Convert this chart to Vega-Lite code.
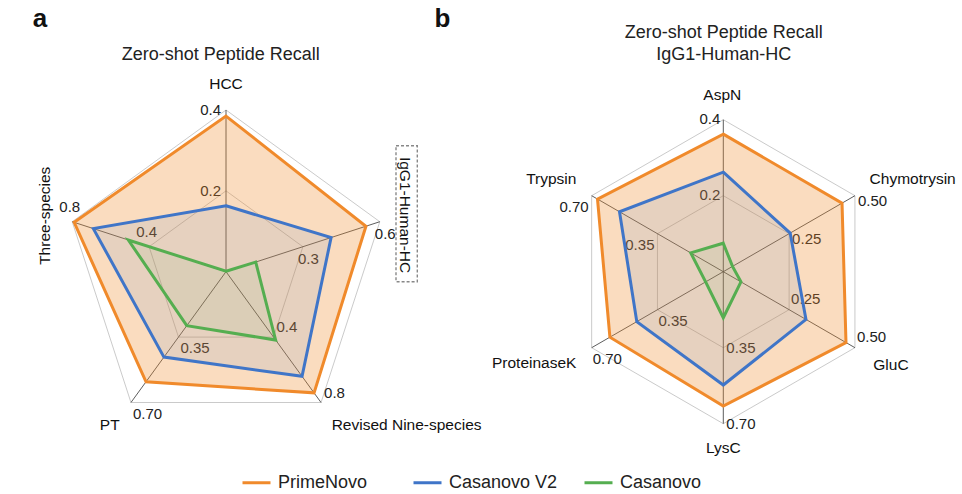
{
"$schema":"https://vega.github.io/schema/vega-lite/v6.json",
"width":962,"height":494,"padding":0,"autosize":{"type":"none"},"background":"white",
"config":{"view":{"stroke":null},"font":"Liberation Sans"},
"datasets":{
"axes":[
{"panel":"a","axis":"HCC","k":0,"n":5,"max":0.4,"levels":[0.5,1],"ticks":["0.2","0.4"]},
{"panel":"a","axis":"IgG1-Human-HC","k":1,"n":5,"max":0.6,"levels":[0.5,1],"ticks":["0.3","0.6"]},
{"panel":"a","axis":"Revised Nine-species","k":2,"n":5,"max":0.8,"levels":[0.5,1],"ticks":["0.4","0.8"]},
{"panel":"a","axis":"PT","k":3,"n":5,"max":0.7,"levels":[0.5,1],"ticks":["0.35","0.70"]},
{"panel":"a","axis":"Three-species","k":4,"n":5,"max":0.8,"levels":[0.5,1],"ticks":["0.4","0.8"]},
{"panel":"b","axis":"AspN","k":0,"n":6,"max":0.4,"levels":[0.5,1],"ticks":["0.2","0.4"]},
{"panel":"b","axis":"Chymotrysin","k":1,"n":6,"max":0.5,"levels":[0.5,1],"ticks":["0.25","0.50"]},
{"panel":"b","axis":"GluC","k":2,"n":6,"max":0.5,"levels":[0.5,1],"ticks":["0.25","0.50"]},
{"panel":"b","axis":"LysC","k":3,"n":6,"max":0.7,"levels":[0.5,1],"ticks":["0.35","0.70"]},
{"panel":"b","axis":"ProteinaseK","k":4,"n":6,"max":0.7,"levels":[0.5,1],"ticks":["0.35","0.70"]},
{"panel":"b","axis":"Trypsin","k":5,"n":6,"max":0.7,"levels":[0.5,1],"ticks":["0.35","0.70"]}
],
"scores":[
{"axis":"HCC","series":"PrimeNovo","value":0.385},
{"axis":"IgG1-Human-HC","series":"PrimeNovo","value":0.546},
{"axis":"Revised Nine-species","series":"PrimeNovo","value":0.741},
{"axis":"PT","series":"PrimeNovo","value":0.589},
{"axis":"Three-species","series":"PrimeNovo","value":0.79},
{"axis":"HCC","series":"Casanovo V2","value":0.163},
{"axis":"IgG1-Human-HC","series":"Casanovo V2","value":0.41},
{"axis":"Revised Nine-species","series":"Casanovo V2","value":0.64},
{"axis":"PT","series":"Casanovo V2","value":0.457},
{"axis":"Three-species","series":"Casanovo V2","value":0.69},
{"axis":"HCC","series":"Casanovo","value":0.001},
{"axis":"IgG1-Human-HC","series":"Casanovo","value":0.116},
{"axis":"Revised Nine-species","series":"Casanovo","value":0.418},
{"axis":"PT","series":"Casanovo","value":0.289},
{"axis":"Three-species","series":"Casanovo","value":0.508},
{"axis":"AspN","series":"PrimeNovo","value":0.362},
{"axis":"Chymotrysin","series":"PrimeNovo","value":0.451},
{"axis":"GluC","series":"PrimeNovo","value":0.466},
{"axis":"LysC","series":"PrimeNovo","value":0.619},
{"axis":"ProteinaseK","series":"PrimeNovo","value":0.603},
{"axis":"Trypsin","series":"PrimeNovo","value":0.669},
{"axis":"AspN","series":"Casanovo V2","value":0.262},
{"axis":"Chymotrysin","series":"Casanovo V2","value":0.254},
{"axis":"GluC","series":"Casanovo V2","value":0.314},
{"axis":"LysC","series":"Casanovo V2","value":0.522},
{"axis":"ProteinaseK","series":"Casanovo V2","value":0.46},
{"axis":"Trypsin","series":"Casanovo V2","value":0.552},
{"axis":"AspN","series":"Casanovo","value":0.075},
{"axis":"Chymotrysin","series":"Casanovo","value":0.035},
{"axis":"GluC","series":"Casanovo","value":0.067},
{"axis":"LysC","series":"Casanovo","value":0.212},
{"axis":"ProteinaseK","series":"Casanovo","value":0.094},
{"axis":"Trypsin","series":"Casanovo","value":0.173}
],
"titles":[
{"panel":"a","line":0,"text":"Zero-shot Peptide Recall"},
{"panel":"b","line":0,"text":"Zero-shot Peptide Recall"},
{"panel":"b","line":1,"text":"IgG1-Human-HC"}
],
"letters":[{"panel":"a","text":"a"},{"panel":"b","text":"b"}]
},
"encoding":{
"x":{"field":"px","type":"quantitative","scale":{"domain":[-1.3977,4.5516],"nice":false,"zero":false},"axis":null},
"y":{"field":"py","type":"quantitative","scale":{"domain":[-1.3748,1.6803],"nice":false,"zero":false},"axis":null}
},
"layer":[
{"data":{"values":[{}]},
"mark":{"type":"rect","color":"#6b7585","opacity":1},
"encoding":{"x":{"datum":-1.3977,"type":"quantitative"},"x2":{"datum":4.5516},"y":{"datum":1.6803,"type":"quantitative"},"y2":{"datum":1.6618}}
},
{"data":{"name":"axes"},
"transform":[
{"calculate":"datum.panel=='a'?0:3.0754","as":"cx"},
{"calculate":"datum.panel=='a'?1:0.94","as":"R"},
{"calculate":"2*PI*datum.k/datum.n","as":"th"},
{"flatten":["levels","ticks"]},
{"calculate":"datum.cx+datum.R*datum.levels*sin(datum.th)","as":"px"},
{"calculate":"datum.R*datum.levels*cos(datum.th)","as":"py"}
],
"mark":{"type":"line","interpolate":"linear-closed","stroke":"#c4c4c4","strokeWidth":0.9},
"encoding":{"detail":[{"field":"panel","type":"nominal"},{"field":"levels","type":"nominal"}],"order":{"field":"k","type":"quantitative"}}
},
{"data":{"name":"axes"},
"transform":[
{"calculate":"datum.panel=='a'?0:3.0754","as":"cx"},
{"calculate":"datum.panel=='a'?1:0.94","as":"R"},
{"calculate":"2*PI*datum.k/datum.n","as":"th"},
{"calculate":"datum.cx","as":"px"},
{"calculate":"0","as":"py"},
{"calculate":"datum.cx+datum.R*sin(datum.th)","as":"px2"},
{"calculate":"datum.R*cos(datum.th)","as":"py2"}
],
"mark":{"type":"rule","stroke":"#333","strokeWidth":0.8},
"encoding":{"x2":{"field":"px2"},"y2":{"field":"py2"}}
},
{"data":{"name":"axes"},
"transform":[
{"calculate":"datum.panel=='a'?0:3.0754","as":"cx"},
{"calculate":"datum.panel=='a'?1:0.94","as":"R"},
{"calculate":"2*PI*datum.k/datum.n","as":"th"},
{"calculate":"datum.panel=='a'?datum.k:5+datum.k","as":"g"},
{"flatten":["levels","ticks"]},
{"calculate":"[-5,-5,3,2,8,-3,3,2,3,1,-3][datum.g]","as":"ox"},
{"calculate":"[0,12,-10,11,-15,-1,5,-11,0,11,11][datum.g]","as":"oy"},
{"calculate":"['r','l','l','l','r','r','l','l','l','l','r'][datum.g]","as":"side"},
{"calculate":"datum.cx+datum.R*datum.levels*sin(datum.th)+datum.ox/161.7","as":"px"},
{"calculate":"datum.R*datum.levels*cos(datum.th)-datum.oy/161.7","as":"py"}
],
"layer":[
{"transform":[{"filter":"datum.side=='l'"}],"mark":{"type":"text","align":"left","baseline":"middle","fontSize":15,"color":"#222"},"encoding":{"text":{"field":"ticks"}}},
{"transform":[{"filter":"datum.side=='r'"}],"mark":{"type":"text","align":"right","baseline":"middle","fontSize":15,"color":"#222"},"encoding":{"text":{"field":"ticks"}}}
]
},
{"data":{"name":"scores"},
"transform":[
{"lookup":"axis","from":{"data":{"name":"axes"},"key":"axis","fields":["panel","k","n","max"]}},
{"calculate":"datum.panel=='a'?0:3.0754","as":"cx"},
{"calculate":"datum.panel=='a'?1:0.94","as":"R"},
{"calculate":"2*PI*datum.k/datum.n","as":"th"},
{"calculate":"datum.cx+datum.R*datum.value/datum.max*sin(datum.th)","as":"px"},
{"calculate":"datum.R*datum.value/datum.max*cos(datum.th)","as":"py"}
],
"layer":[
{"transform":[{"filter":"datum.series=='PrimeNovo'"}],"mark":{"type":"line","interpolate":"linear-closed","fill":"#F08A2B","fillOpacity":0.3,"strokeWidth":0},"encoding":{"detail":{"field":"panel","type":"nominal"},"order":{"field":"k","type":"quantitative"}}},
{"transform":[{"filter":"datum.series=='Casanovo V2'"}],"mark":{"type":"line","interpolate":"linear-closed","fill":"#3f75c8","fillOpacity":0.1,"strokeWidth":0},"encoding":{"detail":{"field":"panel","type":"nominal"},"order":{"field":"k","type":"quantitative"}}},
{"transform":[{"filter":"datum.series=='Casanovo'"}],"mark":{"type":"line","interpolate":"linear-closed","fill":"#55ae50","fillOpacity":0.07,"strokeWidth":0},"encoding":{"detail":{"field":"panel","type":"nominal"},"order":{"field":"k","type":"quantitative"}}},
{"mark":{"type":"line","interpolate":"linear-closed","strokeWidth":3,"strokeJoin":"miter"},
"encoding":{
"color":{"field":"series","type":"nominal","scale":{"domain":["PrimeNovo","Casanovo V2","Casanovo"],"range":["#F08A2B","#3f75c8","#55ae50"]},
"legend":{"orient":"none","legendX":241,"legendY":467,"direction":"horizontal","title":null,"symbolType":"stroke","symbolSize":784,"symbolStrokeWidth":3,"labelFontSize":18,"labelFont":"Liberation Sans","labelColor":"#222","columnPadding":20,"gridAlign":"all","labelOffset":6,"padding":0}},
"detail":{"field":"panel","type":"nominal"},
"order":{"field":"k","type":"quantitative"}}}
]
},
{"data":{"name":"axes"},
"transform":[
{"calculate":"datum.panel=='a'?0:3.0754","as":"cx"},
{"calculate":"datum.panel=='a'?1:0.94","as":"R"},
{"calculate":"2*PI*datum.k/datum.n","as":"th"},
{"calculate":"datum.panel=='a'?datum.k:5+datum.k","as":"g"},
{"calculate":"['c','r90','l','c','r270','c','l','l','c','r','r'][datum.g]","as":"la"},
{"calculate":"[0,0.6,-4.6,-6,-2.6,-1,-6.4,-2.7,0,5.8,5.8][datum.g]","as":"lox"},
{"calculate":"[0,1.3,1.5,1.5,2,0,-4.2,5,0,3.4,-4.2][datum.g]","as":"loy"},
{"calculate":"datum.cx+1.16*datum.R*sin(datum.th)+datum.lox/161.7","as":"px"},
{"calculate":"1.16*datum.R*cos(datum.th)-datum.loy/161.7","as":"py"}
],
"layer":[
{"transform":[{"filter":"datum.la=='c'"}],"mark":{"type":"text","align":"center","baseline":"middle","fontSize":15.5,"color":"#111"},"encoding":{"text":{"field":"axis"}}},
{"transform":[{"filter":"datum.la=='l'"}],"mark":{"type":"text","align":"left","baseline":"middle","fontSize":15.5,"color":"#111"},"encoding":{"text":{"field":"axis"}}},
{"transform":[{"filter":"datum.la=='r'"}],"mark":{"type":"text","align":"right","baseline":"middle","fontSize":15.5,"color":"#111"},"encoding":{"text":{"field":"axis"}}},
{"transform":[{"filter":"datum.la=='r90'"}],"mark":{"type":"text","align":"center","baseline":"middle","fontSize":15.5,"angle":90,"color":"#111"},"encoding":{"text":{"field":"axis"}}},
{"transform":[{"filter":"datum.la=='r270'"}],"mark":{"type":"text","align":"center","baseline":"middle","fontSize":15.5,"angle":270,"color":"#111"},"encoding":{"text":{"field":"axis"}}},
{"transform":[{"filter":"datum.la=='r90'"},
{"calculate":"datum.px-9/161.7","as":"bx"},{"calculate":"datum.px+12.3/161.7","as":"bx2"},
{"calculate":"datum.py+69.3/161.7","as":"by"},{"calculate":"datum.py-66.7/161.7","as":"by2"}],
"mark":{"type":"rect","filled":false,"stroke":"#888","strokeDash":[3,2],"strokeWidth":1.4},
"encoding":{"x":{"field":"bx","type":"quantitative"},"x2":{"field":"bx2"},"y":{"field":"by","type":"quantitative"},"y2":{"field":"by2"}}}
]
},
{"data":{"name":"titles"},
"transform":[
{"calculate":"(datum.panel=='a'?0:3.0754)+(datum.panel=='a'?-5.3:0.5)/161.7","as":"px"},
{"calculate":"(271.7-(datum.panel=='a'?55:33.3+datum.line*21.7))/161.7","as":"py"}
],
"mark":{"type":"text","align":"center","baseline":"middle","fontSize":18,"color":"#222"},
"encoding":{"text":{"field":"text"}}
},
{"data":{"name":"letters"},
"transform":[
{"calculate":"datum.panel=='a'?-1.1503:1.3389","as":"px"},
{"calculate":"1.5133","as":"py"}
],
"mark":{"type":"text","align":"center","baseline":"alphabetic","fontSize":26,"fontWeight":"bold","color":"#111"},
"encoding":{"text":{"field":"text"}}
},
{"data":{"values":[{}]},
"mark":{"type":"rule","stroke":"#222","strokeWidth":1.5},
"encoding":{"x":{"datum":1.2801,"type":"quantitative"},"x2":{"datum":1.7625},"y":{"datum":0.36,"type":"quantitative"}}
},
{"data":{"values":[{}]},
"mark":{"type":"point","shape":"triangle-right","filled":true,"size":60,"color":"#222","opacity":1},
"encoding":{"x":{"datum":1.781,"type":"quantitative"},"y":{"datum":0.36,"type":"quantitative"}}
}
]
}
